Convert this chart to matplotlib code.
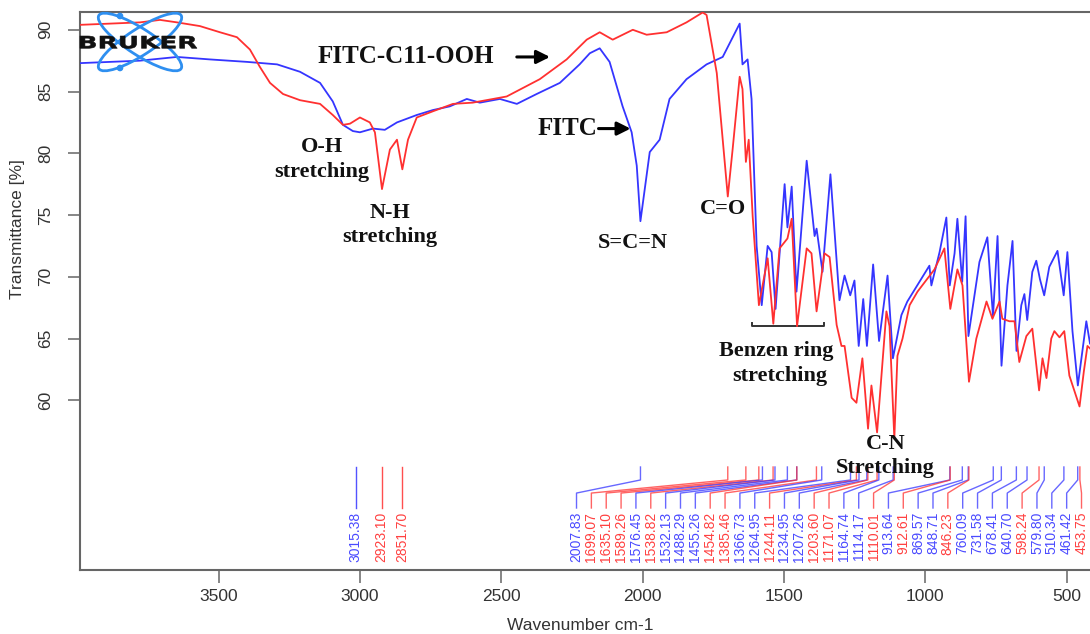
import matplotlib
matplotlib.use("Agg")
import matplotlib.pyplot as plt
from matplotlib.patches import Ellipse, Circle, PathPatch
from matplotlib.textpath import TextPath
from matplotlib.font_manager import FontProperties
from matplotlib.transforms import Affine2D
import numpy as np

# ---- spectra (wavenumber cm-1, transmittance %) ----
fitc_wn = [3990, 3884, 3778, 3647, 3530, 3399, 3293, 3212, 3141, 3096,
           3060, 3025, 3000, 2954, 2912, 2869, 2799, 2742, 2682, 2622,
           2576, 2505, 2445, 2375, 2293, 2223, 2187, 2152, 2117, 2071,
           2039, 2021, 2008, 1975, 1940, 1905, 1845, 1774, 1717, 1657,
           1647, 1629, 1615, 1597, 1579, 1558, 1544, 1530, 1498, 1488,
           1473, 1456, 1420, 1392, 1385, 1364, 1336, 1304, 1286, 1266,
           1251, 1236, 1220, 1207, 1185, 1164, 1134, 1115, 1085, 1064,
           1021, 986, 979, 950, 926, 914, 897, 887, 870, 858,
           848, 809, 781, 761, 745, 731, 710, 692, 678, 661,
           650, 640, 622, 608, 595, 580, 562, 533, 511, 498,
           480, 461, 431, 418]
fitc_t = [87.3, 87.4, 87.5, 87.8, 87.6, 87.4, 87.2, 86.6, 85.7, 84.2,
          82.3, 81.8, 81.7, 82.0, 81.9, 82.5, 83.1, 83.5, 83.8, 84.4,
          84.1, 84.4, 84.0, 84.8, 85.7, 87.2, 88.1, 88.5, 87.4, 83.8,
          81.7, 79.0, 74.5, 80.1, 81.1, 84.4, 86.0, 87.2, 87.8, 90.5,
          87.2, 87.6, 84.4, 72.5, 67.7, 72.5, 72.0, 67.4, 77.5, 74.0,
          77.3, 68.8, 79.4, 73.3, 73.9, 70.4, 78.3, 68.1, 70.1, 68.5,
          69.7, 64.4, 68.2, 64.4, 71.0, 64.8, 70.1, 63.4, 66.9, 68.0,
          69.6, 70.9, 69.3, 72.0, 74.8, 69.3, 71.9, 74.7, 69.6, 74.9,
          65.2, 71.2, 73.2, 66.8, 73.3, 62.8, 69.3, 72.9, 64.0, 67.7,
          68.6, 66.5, 70.4, 71.3, 69.8, 68.5, 70.8, 72.1, 68.5, 72.0,
          65.6, 61.2, 66.4, 64.6]

ooh_wn = [3990, 3884, 3778, 3707, 3647, 3566, 3495, 3435, 3389, 3354,
          3318, 3272, 3212, 3141, 3096, 3060, 3035, 3000, 2965, 2947,
          2922, 2894, 2869, 2850, 2830, 2799, 2742, 2671, 2601, 2481,
          2364, 2269, 2198, 2152, 2106, 2035, 1986, 1915, 1845, 1788,
          1774, 1738, 1699, 1682, 1657, 1647, 1635, 1625, 1611, 1589,
          1558, 1538, 1516, 1488, 1473, 1454, 1420, 1403, 1385, 1357,
          1339, 1314, 1297, 1286, 1261, 1244, 1223, 1203, 1191, 1171,
          1138, 1127, 1110, 1099, 1081, 1056, 1028, 968, 933, 912,
          887, 869, 846, 820, 784, 763, 738, 728, 703, 685,
          668, 643, 622, 598, 586, 572, 555, 544, 526, 509,
          491, 455, 440, 427, 418]
ooh_t = [90.4, 90.5, 90.6, 90.8, 90.6, 90.3, 89.8, 89.4, 88.4, 87.0,
         85.7, 84.8, 84.3, 84.0, 83.1, 82.3, 82.4, 82.9, 82.5, 81.7,
         77.1, 80.3, 81.1, 78.7, 81.1, 82.9, 83.4, 84.0, 84.1, 84.6,
         86.0, 87.6, 89.2, 89.8, 89.2, 90.0, 89.6, 89.8, 90.6, 91.4,
         91.2, 86.5, 76.5, 80.3, 86.2, 85.2, 79.3, 81.1, 74.9, 67.7,
         71.5, 66.2, 72.3, 73.1, 74.7, 66.0, 72.3, 71.9, 67.2, 71.9,
         71.6, 66.1, 64.4, 64.4, 60.2, 59.8, 63.4, 57.7, 61.2, 57.4,
         67.2, 66.0, 56.9, 63.6, 65.0, 67.7, 68.8, 70.6, 72.3, 67.4,
         70.6, 69.3, 61.5, 65.0, 68.0, 66.6, 68.0, 66.6, 66.4, 66.4,
         63.1, 65.2, 65.8, 60.8, 63.4, 61.8, 65.0, 65.6, 65.1, 65.6,
         62.0, 59.5, 62.3, 64.4, 64.2]

# ---- picked peaks: position and which spectrum they belong to ----
peak_wn = [3015.38, 2923.10, 2851.70,
           2007.83, 1699.07, 1635.10, 1589.26, 1576.45, 1538.82, 1532.13,
           1488.29, 1455.26, 1454.82, 1385.46, 1366.73, 1264.95, 1244.11,
           1234.95, 1207.26, 1203.60, 1171.07, 1164.74, 1114.17, 1110.01,
           913.64, 912.61, 869.57, 848.71, 846.23, 760.09, 731.58, 678.41,
           640.70, 598.24, 579.80, 510.34, 461.42, 453.75]
peak_src = ["F", "O", "O",
            "F", "O", "O", "O", "F", "O", "F",
            "F", "F", "O", "O", "F", "F", "O",
            "F", "F", "O", "O", "F", "F", "O",
            "F", "O", "F", "F", "O", "F", "F", "F",
            "F", "O", "F", "F", "F", "O"]

BLUE = "#3535ff"
RED = "#ff3030"
LBL_BLUE = "#4a4aff"
LBL_RED = "#ff4040"

W, H = 1090, 634
fig = plt.figure(figsize=(W / 100, H / 100), dpi=100)
ax = fig.add_axes([80 / W, (H - 570) / H, 1010 / W, 558 / H])

ax.plot(fitc_wn, fitc_t, color=BLUE, lw=1.3, zorder=3)
ax.plot(ooh_wn, ooh_t, color=RED, lw=1.3, zorder=3)

ax.set_xlim(3990, 418)
ax.set_ylim(46.26, 91.44)

# ---- peak pick labels ----
y_top, y_k1, y_k2, y_bot, y_txt = 54.60, 53.55, 52.49, 51.28, 50.96
n_iso = 3
spread_x = np.linspace(2234, 448, len(peak_wn) - n_iso)
for i, (wn, src) in enumerate(zip(peak_wn, peak_src)):
    c = BLUE if src == "F" else RED
    lc = LBL_BLUE if src == "F" else LBL_RED
    if i < n_iso:
        lx = wn
        ax.plot([wn, wn], [y_top, y_bot], color=c, lw=1.0, alpha=0.85)
    else:
        lx = spread_x[i - n_iso]
        ax.plot([wn, wn, lx, lx], [y_top, y_k1, y_k2, y_bot],
                color=c, lw=1.0, alpha=0.75)
    ax.text(lx, y_txt, f"{wn:.2f}", rotation=90, ha="center", va="top",
            fontsize=10, color=lc, family="Liberation Sans")

# ---- axes styling ----
ax.spines["right"].set_visible(False)
for side in ("left", "top", "bottom"):
    ax.spines[side].set_color("#666666")
    ax.spines[side].set_linewidth(1.5)
ax.set_xticks([3500, 3000, 2500, 2000, 1500, 1000, 500])
ax.set_yticks([60, 65, 70, 75, 80, 85, 90])
ax.tick_params(axis="both", length=9, width=1.1, color="#666666",
               labelsize=12.5, labelcolor="#333333")
ax.tick_params(axis="x", pad=5)
ax.tick_params(axis="y", pad=10)
for lab in ax.get_xticklabels() + ax.get_yticklabels():
    lab.set_family("Liberation Sans")
for lab in ax.get_yticklabels():
    lab.set_rotation(90)
    lab.set_va("center")

fig.text(580 / W, 1 - 625 / H, "Wavenumber cm-1", ha="center", va="center",
         fontsize=12.5, color="#333333", family="Liberation Sans")
fig.text(18 / W, 1 - 229 / H, "Transmittance [%]", ha="center", va="center",
         rotation=90, fontsize=12.5, color="#333333", family="Liberation Sans")

# ---- band annotations ----
serif = dict(family="Liberation Serif", fontweight="bold", color="#111111")
ax.text(3149, 87.8, "FITC-C11-OOH", ha="left", va="center", fontsize=18, **serif)
ax.annotate("", xy=(2318, 87.8), xytext=(2455, 87.8),
            arrowprops=dict(arrowstyle="-|>", color="black", lw=2.2,
                            mutation_scale=20))
ax.text(2371, 82.0, "FITC", ha="left", va="center", fontsize=18, **serif)
ax.annotate("", xy=(2033, 82.0), xytext=(2166, 82.0),
            arrowprops=dict(arrowstyle="-|>", color="black", lw=2.2,
                            mutation_scale=20))

ax.text(3134, 80.5, "O-H", ha="center", va="center", fontsize=16, **serif)
ax.text(3134, 78.5, "stretching", ha="center", va="center", fontsize=16, **serif)
ax.text(2893, 75.2, "N-H", ha="center", va="center", fontsize=16, **serif)
ax.text(2893, 73.2, "stretching", ha="center", va="center", fontsize=16, **serif)
ax.text(2034, 72.7, "S=C=N", ha="center", va="center", fontsize=16, **serif)
ax.text(1716, 75.5, "C=O", ha="center", va="center", fontsize=16, **serif)
ax.text(1526, 64.0, "Benzen ring", ha="center", va="center", fontsize=16, **serif)
ax.text(1516, 62.0, "stretching", ha="center", va="center", fontsize=16, **serif)
ax.text(1141, 56.5, "C-N", ha="center", va="center", fontsize=16, **serif)
ax.text(1141, 54.5, "Stretching", ha="center", va="center", fontsize=16, **serif)

# bracket under the ring bands
ax.plot([1615, 1615, 1357, 1357], [66.25, 66.0, 66.0, 66.25],
        color="#333333", lw=1.4)

# ---- instrument logo (pixel overlay) ----
ov = fig.add_axes([0, 0, 1, 1], facecolor="none")
ov.set_xlim(0, W)
ov.set_ylim(H, 0)
ov.axis("off")
logo_c = "#2e8ff0"
for ang in (33, -33):
    ov.add_patch(Ellipse((140, 42), 98, 26, angle=ang, fill=False,
                         ec=logo_c, lw=2.0, zorder=4))
for cy in (16, 68):
    ov.add_patch(Circle((120, cy), 2.6, color=logo_c, zorder=4))
tp = TextPath((0, 0), "BRUKER", size=1,
              prop=FontProperties(family="DejaVu Sans", weight="bold"))
bb = tp.get_extents()
logo_tf = (Affine2D().translate(-bb.x0, -bb.y0)
           .scale(117 / bb.width, -12.5 / bb.height).translate(80, 48.5))
ov.add_patch(PathPatch(logo_tf.transform_path(tp), fc="#111111", lw=0.4,
                       ec="#111111", zorder=5))

fig.savefig("out.png", dpi=100)
